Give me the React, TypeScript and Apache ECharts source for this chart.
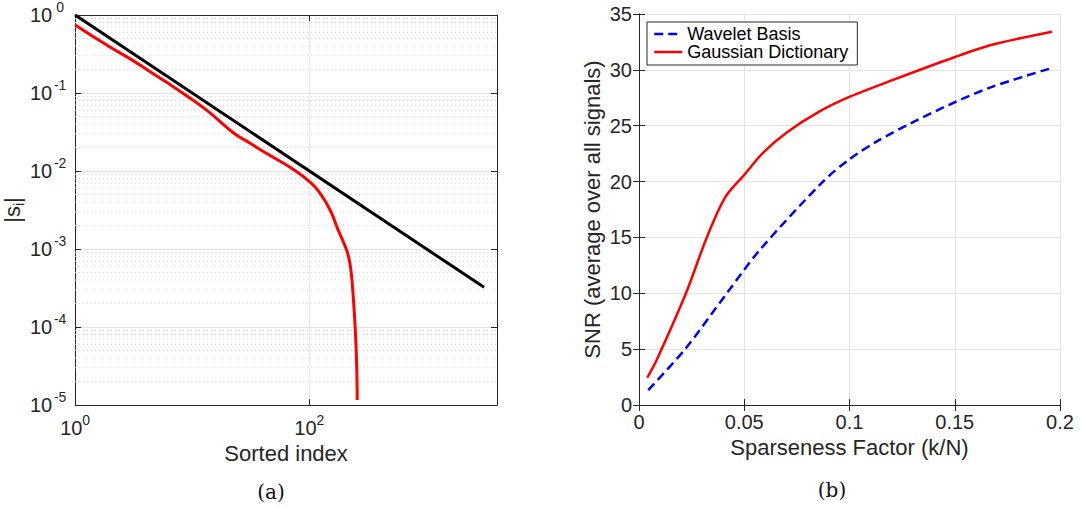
import React, { useEffect, useRef } from "react";
import * as echarts from "echarts";

// ---------- data ----------
// (a) sorted coefficient magnitudes
const redIndex = [1, 2, 3, 4.4, 6, 8.5, 13.5, 22.7, 30, 43.6, 68.9, 102, 124, 151, 172, 190, 209, 221, 231, 238, 244, 249, 252.7, 255.1, 256.1];
const redMagnitude = [0.745, 0.385, 0.27, 0.186, 0.138, 0.097, 0.059, 0.0305, 0.0235, 0.0166, 0.0111, 0.00717, 0.0051, 0.00312, 0.00191, 0.00135, 0.000946, 0.000674, 0.000397, 0.00022, 0.000122, 0.0000678, 0.0000376, 0.0000209, 0.0000116];
const blackIndex = [1, 3100];
const blackMagnitude = [1, 0.000323];
const yMinorGrid = [2, 3, 4, 5, 6, 7, 8, 9];
const yDecades = [-5, -4, -3, -2, -1];

// (b) SNR vs sparseness
const waveletK = [0.0044, 0.0219, 0.0417, 0.0575, 0.0874, 0.1, 0.113, 0.13, 0.15, 0.168, 0.195];
const waveletSNR = [1.34, 5.0, 10.0, 13.9, 20.0, 22.0, 23.6, 25.3, 27.1, 28.5, 30.1];
const gaussK = [0.0039, 0.0084, 0.0223, 0.0322, 0.041, 0.05, 0.059, 0.0702, 0.086, 0.1002, 0.1207, 0.1501, 0.1682, 0.1962];
const gaussSNR = [2.44, 4.03, 10.0, 15.0, 18.6, 20.6, 22.6, 24.4, 26.3, 27.6, 29.1, 31.15, 32.27, 33.42];

const FONT = "'Liberation Sans', Arial, Helvetica, sans-serif";
const AX = "#262626";
const GRID = "#e3e3e3";
const X_MIN_A = 1;
const X_MAX_A = 4000;

const zip = (a: number[], b: number[]) => a.map((v, i) => [v, b[i]]);

const powLabel = (v: number) => {
  const e = Math.round(Math.log10(v));
  return "10{sup|" + e + "}";
};

function App() {
  const ref = useRef<HTMLDivElement>(null);
  useEffect(() => {
    if (!ref.current) return;
    const chart = echarts.init(ref.current, undefined, { renderer: "svg" });

    const minorData: any[] = [];
    yDecades.forEach((d) =>
      yMinorGrid.forEach((m) => {
        const v = m * Math.pow(10, d);
        minorData.push([X_MIN_A, v], [X_MAX_A, v], [X_MAX_A, "-"]);
      })
    );

    const tickBase = { color: AX, fontSize: 20, fontFamily: FONT };
    const supRich = {
      sup: { fontSize: 14, fontFamily: FONT, color: AX, padding: [0, 0, 16, 0], verticalAlign: "top" },
    };
    const supRichY = {
      sup: { fontSize: 14, fontFamily: FONT, color: AX, padding: [0, 0, 16, 0], width: 16, align: "left" },
    };
    const nameStyle = { color: AX, fontSize: 22, fontFamily: FONT };
    const axisLine = { show: true, lineStyle: { color: AX, width: 1 } };
    const tick = { show: true, inside: true, length: 6, lineStyle: { color: AX } };

    const option: any = {
      animation: false,
      grid: [
        { left: 74, top: 14, width: 423, height: 391 },
        { left: 639, top: 14, width: 421, height: 391 },
      ],
      legend: {
        data: ["Wavelet Basis", "Gaussian Dictionary"],
        orient: "vertical",
        left: 647,
        top: 22,
        itemWidth: 28,
        itemHeight: 14,
        itemGap: 0,
        padding: [3, 9, 4, 6],
        borderColor: AX,
        borderWidth: 1,
        backgroundColor: "#fff",
        selectedMode: false,
        itemStyle: { opacity: 0 },
        lineStyle: { width: 2.5 },
        textStyle: { fontSize: 18, color: "#000", fontFamily: FONT },
      },
      xAxis: [
        {
          type: "log", gridIndex: 0, min: X_MIN_A, max: X_MAX_A, interval: 2,
          axisLine, axisTick: tick,
          axisLabel: { ...tickBase, margin: 8, formatter: powLabel, rich: supRich, showMaxLabel: false },
          splitLine: { show: true, lineStyle: { color: GRID } },
          name: "Sorted index", nameLocation: "middle", nameGap: 30, nameTextStyle: nameStyle,
        },
        {
          type: "log", gridIndex: 0, min: X_MIN_A, max: X_MAX_A, interval: 2, position: "top",
          axisLine, axisTick: tick, axisLabel: { show: false }, splitLine: { show: false },
        },
        {
          type: "value", gridIndex: 1, min: 0, max: 0.2, interval: 0.05,
          axisLine, axisTick: tick,
          axisLabel: { ...tickBase, margin: 7 },
          splitLine: { show: true, lineStyle: { color: GRID } },
          name: "Sparseness Factor (k/N)", nameLocation: "middle", nameGap: 28, nameTextStyle: nameStyle,
        },
        {
          type: "value", gridIndex: 1, min: 0, max: 0.2, interval: 0.05, position: "top",
          axisLine, axisTick: tick, axisLabel: { show: false }, splitLine: { show: false },
        },
      ],
      yAxis: [
        {
          type: "log", gridIndex: 0, min: 0.00001, max: 1, interval: 1,
          axisLine, axisTick: tick,
          axisLabel: { ...tickBase, margin: 7, formatter: powLabel, rich: supRichY },
          splitLine: { show: true, lineStyle: { color: GRID } },
          name: "|s{sub|i}|", nameLocation: "middle", nameGap: 40,
          nameTextStyle: {
            ...nameStyle,
            rich: { sub: { fontSize: 14, fontFamily: FONT, color: AX, padding: [14, 0, 0, 0], verticalAlign: "bottom" } },
          },
        },
        {
          type: "log", gridIndex: 0, min: 0.00001, max: 1, interval: 1, position: "right",
          axisLine, axisTick: tick, axisLabel: { show: false }, splitLine: { show: false },
        },
        {
          type: "value", gridIndex: 1, min: 0, max: 35, interval: 5,
          axisLine, axisTick: tick,
          axisLabel: { ...tickBase, margin: 7 },
          splitLine: { show: true, lineStyle: { color: GRID } },
          name: "SNR (average over all signals)", nameLocation: "middle", nameGap: 36, nameTextStyle: nameStyle,
        },
        {
          type: "value", gridIndex: 1, min: 0, max: 35, interval: 5, position: "right",
          axisLine, axisTick: tick, axisLabel: { show: false }, splitLine: { show: false },
        },
      ],
      series: [
        {
          name: "minor grid", type: "line", xAxisIndex: 0, yAxisIndex: 0, z: 1, silent: true,
          data: minorData, showSymbol: false, symbol: "none", connectNulls: false,
          lineStyle: { color: "#cccccc", type: [1, 3], width: 1 },
        },
        {
          name: "sorted", type: "line", xAxisIndex: 0, yAxisIndex: 0,
          data: zip(redIndex, redMagnitude), showSymbol: false, symbol: "none",
          smooth: 0.5,
          lineStyle: { color: "#ff0000", width: 3 },
        },
        {
          name: "power law", type: "line", xAxisIndex: 0, yAxisIndex: 0,
          data: zip(blackIndex, blackMagnitude), showSymbol: false, symbol: "none",
          lineStyle: { color: "#000", width: 3 },
        },
        {
          name: "Wavelet Basis", type: "line", xAxisIndex: 2, yAxisIndex: 2,
          data: zip(waveletK, waveletSNR), showSymbol: false, symbol: "none",
          smooth: 0.3,
          color: "#0000ff",
          lineStyle: { color: "#0000ff", width: 2.5, type: [9, 5] },
        },
        {
          name: "Gaussian Dictionary", type: "line", xAxisIndex: 2, yAxisIndex: 2,
          data: zip(gaussK, gaussSNR), showSymbol: false, symbol: "none",
          smooth: 0.3,
          color: "#ff0000",
          lineStyle: { color: "#ff0000", width: 2.5 },
        },
      ],
      graphic: [
        { type: "text", x: 271, y: 492, style: { text: "(a)", fontSize: 20, fontFamily: "'DejaVu Serif', serif", align: "center", verticalAlign: "middle", fill: "#111" } },
        { type: "text", x: 832, y: 490, style: { text: "(b)", fontSize: 20, fontFamily: "'DejaVu Serif', serif", align: "center", verticalAlign: "middle", fill: "#111" } },
      ],
    };
    chart.setOption(option);
    return () => chart.dispose();
  }, []);
  return (
    <div
      ref={ref}
      style={{ position: "absolute", left: 0, top: 0, width: 1084, height: 508, background: "#fff" }}
    />
  );
}

export default App;
